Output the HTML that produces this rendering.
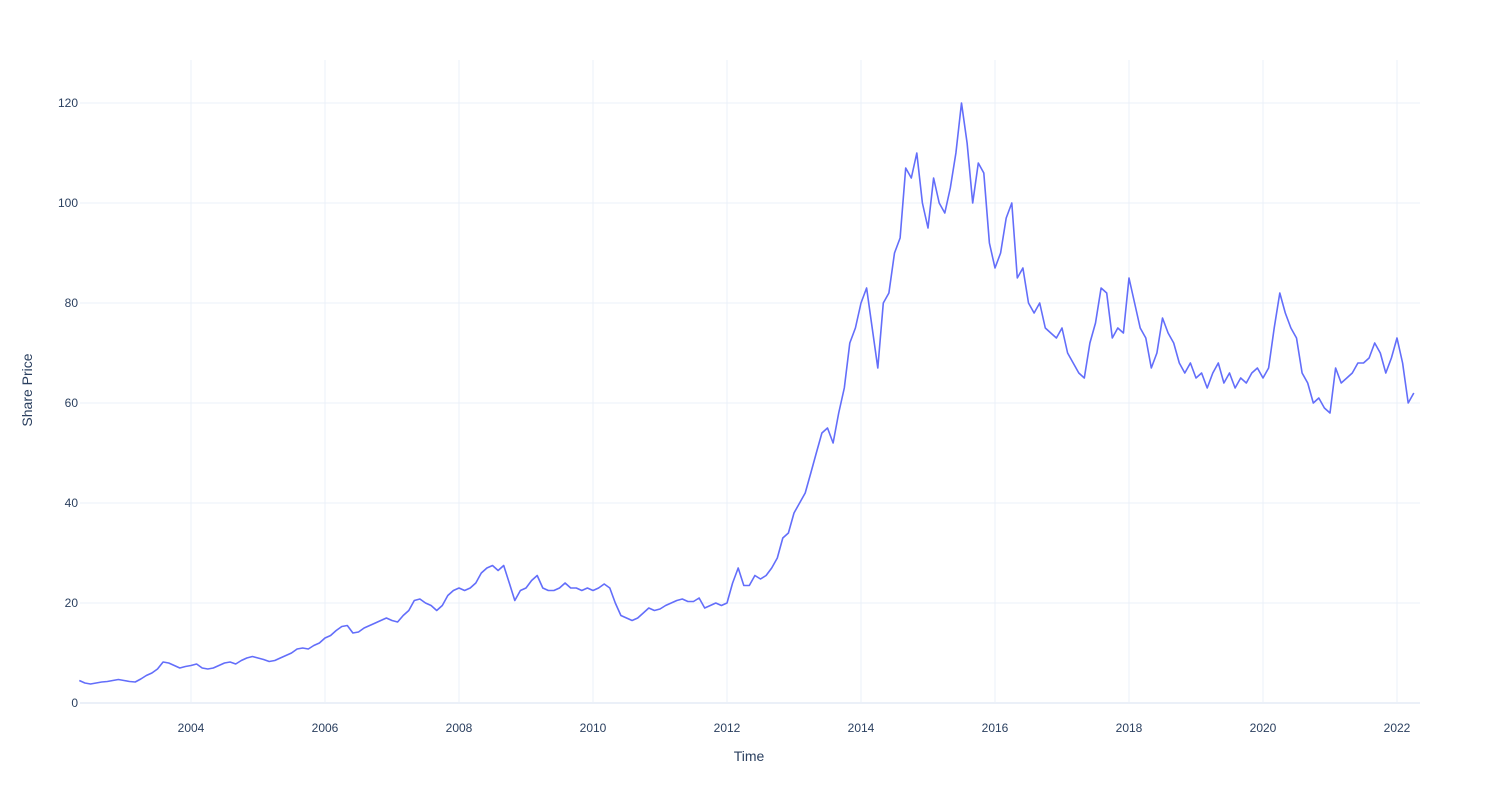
<!DOCTYPE html>
<html><head><meta charset="utf-8">
<style>
body{margin:0;background:#fff;font-family:"Liberation Sans","DejaVu Sans",sans-serif;}
svg text{font-family:"Liberation Sans","DejaVu Sans",sans-serif;fill:#2a3f5f;}
</style></head>
<body>
<svg id="chart" width="1500" height="800" xmlns="http://www.w3.org/2000/svg">
<rect width="1500" height="800" fill="#fff"/>
<g id="grid"></g>
<g id="axes"></g>
<path id="line" fill="none" stroke="#636efa" stroke-width="1.6" stroke-linejoin="round"/>
<text x="749" y="761" text-anchor="middle" font-size="14">Time</text>
<text x="32" y="390" text-anchor="middle" font-size="14" transform="rotate(-90 32 390)">Share Price</text>
</svg>
<script>
const startYear = 2002 + 4/12;
const values = [
4.5,4,3.8,4,4.2,4.3,4.5,4.7,
4.5,4.3,4.2,4.8,5.5,6,6.8,8.2,8,7.5,7,7.3,
7.5,7.8,7,6.8,7,7.5,8,8.2,7.8,8.5,9,9.3,
9,8.7,8.3,8.5,9,9.5,10,10.8,11,10.8,11.5,12,
13,13.5,14.5,15.3,15.5,14,14.2,15,15.5,16,16.5,17,
16.5,16.2,17.5,18.5,20.5,20.8,20,19.5,18.5,19.5,21.5,22.5,
23,22.5,23,24,26,27,27.5,26.5,27.5,24,20.5,22.5,
23,24.5,25.5,23,22.5,22.5,23,24,23,23,22.5,23,
22.5,23,23.8,23,20,17.5,17,16.5,17,18,19,18.5,
18.8,19.5,20,20.5,20.8,20.3,20.3,21,19,19.5,20,19.5,
20,24,27,23.5,23.5,25.5,24.8,25.5,27,29,33,34,
38,40,42,46,50,54,55,52,58,63,72,75,
80,83,75,67,80,82,90,93,107,105,110,100,
95,105,100,98,103,110,120,112,100,108,106,92,
87,90,97,100,85,87,80,78,80,75,74,73,
75,70,68,66,65,72,76,83,82,73,75,74,
85,80,75,73,67,70,77,74,72,68,66,68,
65,66,63,66,68,64,66,63,65,64,66,67,
65,67,75,82,78,75,73,66,64,60,61,59,
58,67,64,65,66,68,68,69,72,70,66,69,
73,68,60,62];
const dates = values.map((v,i)=>startYear + i/12);
const xTicks = [2004,2006,2008,2010,2012,2014,2016,2018,2020,2022];
const yTicks = [0,20,40,60,80,100,120];

const L=80,R=1420,T=60,B=703;
const x = yr => 191 + (yr-2004)*67;
const y = v => B - v*5;
const NS="http://www.w3.org/2000/svg";
const grid=document.getElementById('grid'), axes=document.getElementById('axes');
function mk(tag,attrs,parent){const e=document.createElementNS(NS,tag);for(const k in attrs)e.setAttribute(k,attrs[k]);parent.appendChild(e);return e;}
xTicks.forEach(t=>{
  const l=mk('line',{x1:x(t),x2:x(t),y1:T,y2:B,stroke:'#ebf0f8','stroke-width':1},grid);
  
  
  const tx=mk('text',{x:x(t),y:B+29,'text-anchor':'middle','font-size':12},axes);
  tx.textContent=t;
  
  
});
yTicks.forEach(t=>{
  const l=mk('line',{x1:L,x2:R,y1:y(t),y2:y(t),stroke:'#ebf0f8','stroke-width':t===0?2:1},grid);
  
  
  const tx=mk('text',{x:L-2,y:y(t)+4,'text-anchor':'end','font-size':12},axes);
  tx.textContent=t;
  
  
});
document.getElementById('line').setAttribute('d',values.map((v,i)=>(i?'L':'M')+x(dates[i]).toFixed(1)+','+y(v).toFixed(1)).join(''));
</script>
</body></html>
